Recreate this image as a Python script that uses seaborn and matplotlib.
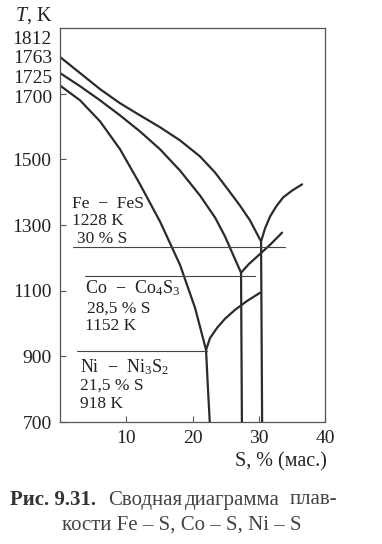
import matplotlib
matplotlib.use('Agg')
import matplotlib.pyplot as plt
import seaborn as sns

# liquidus curves (S, % mass  ->  T, K)
fe_s = [0, 3.02, 6.04, 9.06, 12.08, 15.09, 18.11, 21.13, 23.40, 25.36, 27.17, 28.68, 30.34]
fe_t = [1812, 1763, 1714, 1671, 1634, 1598, 1558, 1509, 1460, 1408, 1359, 1314, 1250]
co_s = [0, 3.02, 6.04, 9.06, 12.08, 15.09, 18.11, 21.13, 23.40, 24.91, 26.11, 27.32]
co_t = [1763, 1723, 1680, 1634, 1585, 1531, 1466, 1390, 1323, 1265, 1210, 1155]
ni_s = [0, 3.02, 6.04, 9.06, 12.08, 15.09, 18.11, 20.38, 22.04]
ni_t = [1725, 1680, 1616, 1531, 1424, 1311, 1179, 1048, 920]

# vertical lines below the eutectic points
fe_vs = [30.34, 30.5]
fe_vt = [1250, 700]
co_vs = [27.32, 27.45]
co_vt = [1155, 700]
ni_vs = [22.04, 22.3, 22.6]
ni_vt = [920, 813, 700]

# sulfide branches
fes_s = [30.34, 30.94, 31.70, 32.60, 33.66, 35.02, 36.53]
fes_t = [1250, 1290, 1326, 1356, 1384, 1405, 1424]
cos_s = [27.32, 28.53, 29.74, 31.70, 33.51]
cos_t = [1155, 1182, 1204, 1240, 1277]
nis_s = [22.04, 22.64, 23.70, 24.91, 26.42, 28.23, 30.19]
nis_t = [920, 956, 987, 1015, 1042, 1069, 1094]

# eutectic isotherms
fe_eut = 1234
fe_eut_s = [2.0, 34.0]
co_eut = 1146
co_eut_s = [3.8, 29.4]
ni_eut = 917
ni_eut_s = [2.5, 22.2]

yticks = [700, 900, 1100, 1300, 1500, 1700]
ytick_labels = ['700', '900', '1100', '1300', '1500', '']
xticks = [10, 20, 30, 40]
top_labels = ['1812', '1763', '1725', '1700']

sns.set_style('ticks')
plt.rcParams['font.family'] = ['Liberation Serif', 'DejaVu Serif']
plt.rcParams['mathtext.fontset'] = 'custom'
plt.rcParams['mathtext.rm'] = 'Liberation Serif'
plt.rcParams['mathtext.it'] = 'Liberation Serif:italic'

fig = plt.figure(figsize=(3.82, 5.44), dpi=100)
ax = fig.add_axes([0.157, 0.224, 0.694, 0.7245])

dark = '#2b2b2b'
for xs, ts in [(fe_s, fe_t), (co_s, co_t), (ni_s, ni_t),
               (fe_vs, fe_vt), (co_vs, co_vt), (ni_vs, ni_vt),
               (fes_s, fes_t), (cos_s, cos_t), (nis_s, nis_t)]:
    sns.lineplot(x=xs, y=ts, sort=False, estimator=None, color=dark, lw=1.6, ax=ax)

for t, xs in [(fe_eut, fe_eut_s), (co_eut, co_eut_s), (ni_eut, ni_eut_s)]:
    sns.lineplot(x=xs, y=[t, t], sort=False, estimator=None, color='#444444', lw=0.8, ax=ax)

ax.set_xlim(0, 40)
ax.set_ylim(700, 1900)
ax.set_xticks(xticks)
ax.set_yticks(yticks)
ax.set_yticklabels(ytick_labels)
ax.tick_params(direction='in', length=4, width=0.8, colors='#555555',
               labelcolor='#222222', labelsize=14, pad=6)
for sp in ax.spines.values():
    sp.set_color('#555555')
    sp.set_linewidth(0.9)
ax.set_xlabel('')
ax.set_ylabel('')

# stacked labels of melting points
for lab, yv in zip(top_labels, [1866, 1806, 1747, 1686]):
    ax.text(-0.03, yv, lab, transform=ax.get_yaxis_transform(), ha='right',
            va='center', fontsize=14, color='#222222')

fig.text(0.04, 0.972, '$T$, K', fontsize=14.5, color='#222222', va='center')
fig.text(0.736, 0.151, 'S, % (мас.)', fontsize=14.5, color='#222222',
         ha='center', va='center')

fs = 12.5
txt = '#222222'
ax.text(1.8, 1363, 'Fe  −  FeS', fontsize=fs, va='center', color=txt)
ax.text(1.8, 1311, '1228 K', fontsize=fs, va='center', color=txt)
ax.text(2.6, 1258, '30 % S', fontsize=fs, va='center', color=txt)
ax.text(3.8, 1109, 'Co  −  Co$_4$S$_3$', fontsize=fs + 0.5, va='center', color=txt)
ax.text(4.1, 1047, '28,5 % S', fontsize=fs, va='center', color=txt)
ax.text(3.8, 993, '1152 K', fontsize=fs, va='center', color=txt)
ax.text(3.0, 868, 'Ni  −  Ni$_3$S$_2$', fontsize=fs + 0.5, va='center', color=txt)
ax.text(3.0, 812, '21,5 % S', fontsize=fs, va='center', color=txt)
ax.text(3.0, 756, '918 K', fontsize=fs, va='center', color=txt)

# caption (justified line, words placed separately)
cy1 = 1 - 500 / 544
cy2 = 1 - 525 / 544
fig.text(10 / 382, cy1, 'Рис. 9.31.', fontsize=15, fontweight='bold',
         color='#333333', va='center')
for word, px in [('Сводная', 108), ('диаграмма', 185), ('плав-', 290)]:
    fig.text(px / 382, cy1, word, fontsize=15, color='#444444', va='center')
fig.text(182 / 382, cy2, 'кости Fe – S, Co – S, Ni – S', fontsize=15,
         color='#444444', va='center', ha='center')

fig.savefig('out.png', dpi=100)
